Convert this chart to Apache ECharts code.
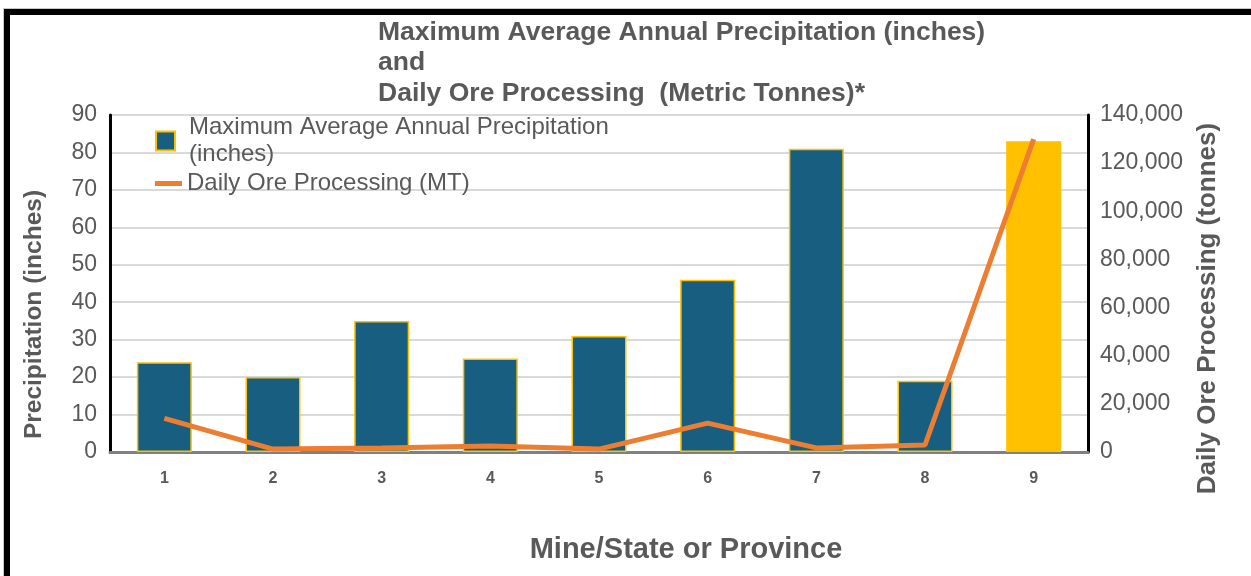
<!DOCTYPE html>
<html>
<head>
<meta charset="utf-8">
<script src="https://cdn.jsdelivr.net/npm/echarts@6/dist/echarts.min.js"></script>
<style>
  html, body { margin: 0; padding: 0; background: #ffffff; }
  #wrap { position: relative; width: 1251px; height: 576px; overflow: hidden; }
  #chart { position: absolute; left: 0; top: 0; width: 1251px; height: 576px; }
  #frame {
    position: absolute; left: 4px; top: 9px; width: 1300px; height: 700px;
    border-left: 6px solid #000; border-top: 6px solid #000;
    box-shadow: -1px -1px 0 #c8c8c8; pointer-events: none;
  }
</style>
</head>
<body>
<div id="wrap">
  <div id="chart"></div>
  <div id="frame"></div>
</div>
<script>
// Mines 1-9: precipitation (left axis) and daily ore throughput (right axis)
const mines = ['1', '2', '3', '4', '5', '6', '7', '8', '9'];
const precipitationInches = [24, 20, 35, 25, 31, 46, 81, 19, 83];
const oreTonnesPerDay = [14000, 1200, 1700, 2500, 1200, 12000, 1700, 2900, 130000];
const precipTicks = { min: 0, max: 90, interval: 10 };
const oreTicks = { min: 0, max: 140000, interval: 20000 };

const BAR_NAME = 'Maximum Average Annual Precipitation (inches)';
const LINE_NAME = 'Daily Ore Processing (MT)';
const highlightIndex = 8;

const TEXT = '#595959';
const FONT = '"Liberation Sans", Arial, sans-serif';
const BLUE = '#175e80';
const GOLD = '#ffc000';
const ORANGE = '#ed7d31';

const barData = precipitationInches.map((v, i) => i === highlightIndex
  ? { value: v, itemStyle: { color: GOLD, borderColor: GOLD } }
  : v);

const chart = echarts.init(document.getElementById('chart'), null, { renderer: 'canvas' });
chart.setOption({
  animation: false,
  textStyle: { fontFamily: FONT },
  title: {
    text: 'Maximum Average Annual Precipitation (inches)\nand\nDaily Ore Processing  (Metric Tonnes)*',
    left: 378, top: 17, padding: 0,
    textStyle: { fontFamily: FONT, fontSize: 26.5, fontWeight: 'bold', color: TEXT, lineHeight: 30.5 }
  },
  legend: [
    {
      data: [{ name: BAR_NAME, icon: 'rect' }],
      left: 155, top: 114, padding: 0,
      itemWidth: 19, itemHeight: 19,
      formatter: () => 'Maximum Average Annual Precipitation\n(inches)',
      textStyle: { fontFamily: FONT, fontSize: 24, color: TEXT, lineHeight: 27, padding: [0, 0, 0, 9] }
    },
    {
      data: [{ name: LINE_NAME, icon: 'rect' }],
      left: 155, top: 170, padding: 0,
      itemWidth: 27, itemHeight: 5,
      textStyle: { fontFamily: FONT, fontSize: 24, color: TEXT, lineHeight: 27 }
    }
  ],
  grid: {
    left: 110, right: 163, top: 115, bottom: 124,
    show: true, borderColor: '#8c8c8c', borderWidth: 2, backgroundColor: 'transparent'
  },
  xAxis: {
    type: 'category',
    data: mines,
    name: 'Mine/State or Province',
    nameLocation: 'middle',
    nameGap: 83,
    nameTextStyle: {
      fontFamily: FONT, fontSize: 29, fontWeight: 'bold', color: TEXT,
      padding: [0, 0, 0, 174]
    },
    axisLine: { lineStyle: { color: '#808080', width: 3 } },
    axisTick: { show: false },
    axisLabel: { fontFamily: FONT, fontSize: 16, fontWeight: 'bold', color: TEXT, margin: 19 }
  },
  yAxis: [
    {
      type: 'value',
      position: 'left',
      min: precipTicks.min, max: precipTicks.max, interval: precipTicks.interval,
      name: 'Precipitation (inches)',
      nameLocation: 'middle',
      nameGap: 63,
      nameTextStyle: {
        fontFamily: FONT, fontSize: 24.5, fontWeight: 'bold', color: TEXT,
        padding: [0, 62, 0, 0]
      },
      axisLine: { show: true, lineStyle: { color: '#000', width: 3 } },
      axisTick: { show: false },
      axisLabel: { fontFamily: FONT, fontSize: 23, color: TEXT, margin: 13 },
      splitLine: { lineStyle: { color: '#d9d9d9', width: 2 } }
    },
    {
      type: 'value',
      position: 'right',
      min: oreTicks.min, max: oreTicks.max, interval: oreTicks.interval,
      name: 'Daily Ore Processing (tonnes)',
      nameLocation: 'middle',
      nameGap: 107,
      nameRotate: 90,
      nameTextStyle: {
        fontFamily: FONT, fontSize: 26, fontWeight: 'bold', color: TEXT,
        padding: [0, 50, 0, 0]
      },
      axisLine: { show: true, lineStyle: { color: '#000', width: 3 } },
      axisTick: { show: false },
      axisLabel: {
        fontFamily: FONT, fontSize: 23, color: TEXT, margin: 12,
        formatter: v => v.toLocaleString('en-US')
      },
      splitLine: { show: false }
    }
  ],
  series: [
    {
      name: BAR_NAME,
      type: 'bar',
      yAxisIndex: 0,
      data: barData,
      barWidth: 55,
      itemStyle: { color: BLUE, borderColor: GOLD, borderWidth: 1.5 }
    },
    {
      name: LINE_NAME,
      type: 'line',
      yAxisIndex: 1,
      data: oreTonnesPerDay,
      showSymbol: false,
      symbol: 'none',
      lineStyle: { color: ORANGE, width: 5 },
      itemStyle: { color: ORANGE }
    }
  ]
});
</script>
</body>
</html>
